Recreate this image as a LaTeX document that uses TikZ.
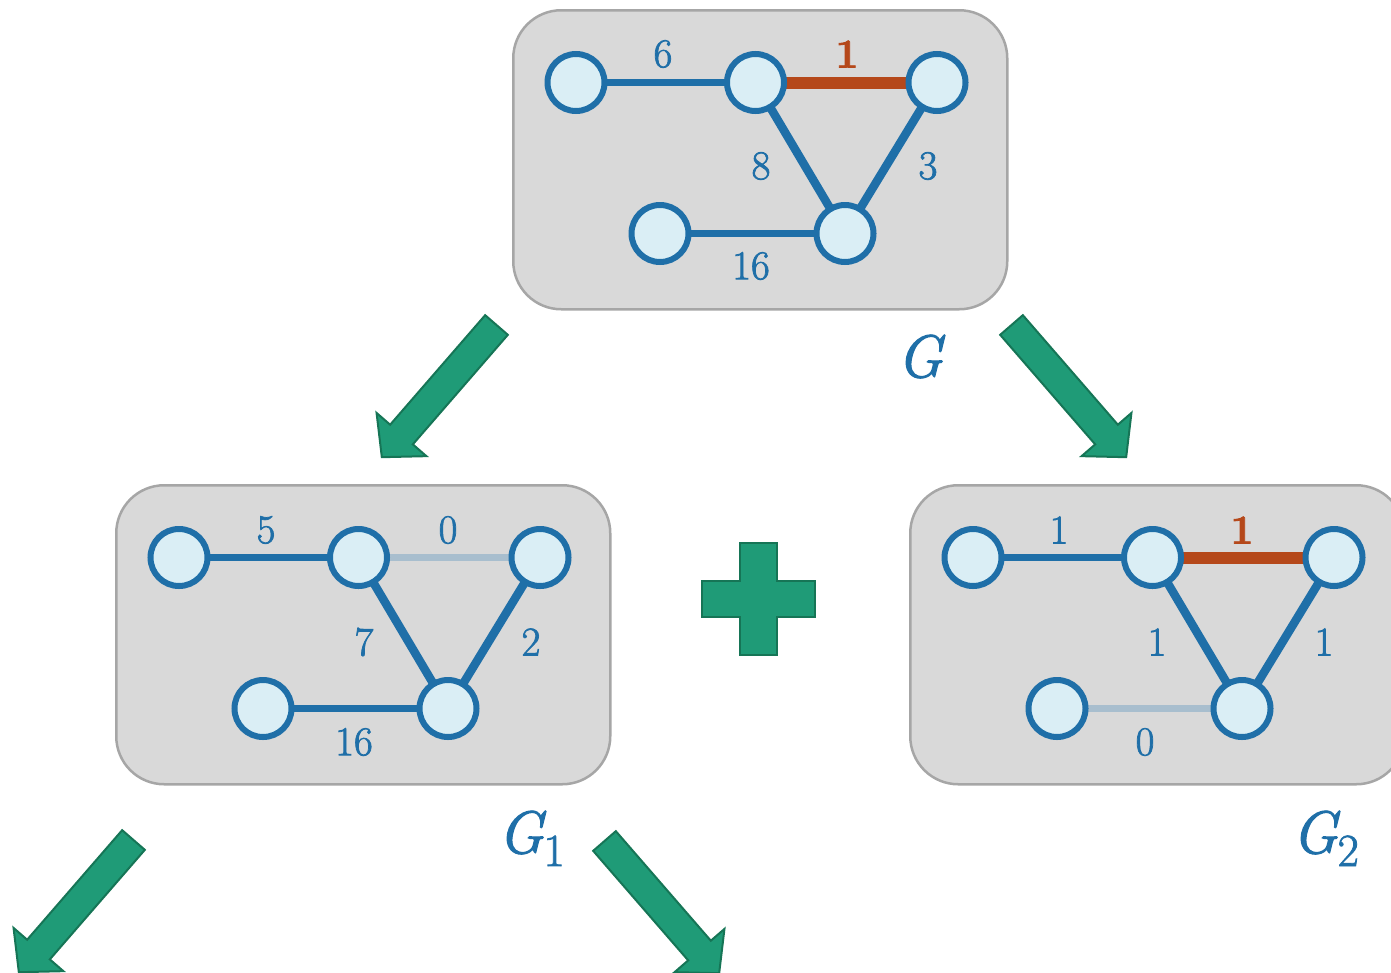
\documentclass[tikz,border=0pt]{standalone}
\usepackage{fontspec}
\setmainfont{Latin Modern Roman}[FakeBold=1.8]
\definecolor{edgeblue}{RGB}{31,111,168}
\definecolor{nodefill}{RGB}{218,238,245}
\definecolor{cutorange}{RGB}{181,72,26}
\definecolor{zeroedge}{RGB}{168,190,206}
\definecolor{boxfill}{RGB}{217,217,217}
\definecolor{boxline}{RGB}{166,166,166}
\definecolor{greenfill}{RGB}{31,155,119}
\definecolor{greenline}{RGB}{22,117,86}
\pgfdeclarelayer{panels}
\pgfdeclarelayer{edges}
\pgfsetlayers{panels,edges,main}
\tikzset{
  vtx/.style={circle, draw=edgeblue, fill=nodefill, line width=6pt, minimum size=57pt, inner sep=0pt},
  gbox/.style={draw=boxline, fill=boxfill, line width=2.5pt, rounded corners=48pt,
    minimum width=494pt, minimum height=299pt, inner sep=0pt, anchor=north west},
  wedge/.style={draw=edgeblue, line width=7pt},
  dedge/.style={draw=edgeblue, line width=8.5pt},
  cedge/.style={draw=cutorange, line width=12pt},
  zedge/.style={draw=zeroedge, line width=6.5pt},
  wlabel/.style={text=edgeblue, inner sep=0pt, font=\fontsize{41}{48}\selectfont},
  clabel/.style={text=cutorange, inner sep=0pt, font=\fontsize{41}{48}\selectfont\bfseries},
  glabel/.style={text=edgeblue, inner sep=0pt, anchor=base west, font=\fontsize{60}{66}\selectfont\itshape},
  greenshape/.style={fill=greenfill, draw=greenline, line width=2pt, line join=miter},
  blockarrow/.pic={
    \path[greenshape] (0,-15) -- (145,-15) -- (145,-33) -- (175,0) -- (145,33) -- (145,15) -- (0,15) -- cycle;
  }
}
% lowered index after a graph name
\newcommand{\gindex}[1]{\raisebox{-13pt}{\fontsize{46}{50}\selectfont\upshape #1}}
% a weighted graph on five vertices inside a rounded panel:
% #1 name prefix, #2 panel corner, #3..#7 edge styles (a-b, b-c, b-e, c-e, d-e)
\newcommand{\panelgraph}[7]{%
  \begin{pgfonlayer}{panels}
    \node[gbox] (#1box) at (#2) {};
  \end{pgfonlayer}
  \begin{scope}[shift={(#2)}]
    \node[vtx] (#1a) at (64,73.5) {};
    \node[vtx] (#1b) at (243.5,73.5) {};
    \node[vtx] (#1c) at (425,73.5) {};
    \node[vtx] (#1d) at (148,224.5) {};
    \node[vtx] (#1e) at (333,224.5) {};
  \end{scope}
  \begin{pgfonlayer}{edges}
    \draw[#3] (#1a.center) -- (#1b.center);
    \draw[#4] (#1b.center) -- (#1c.center);
    \draw[#5] (#1b.center) -- (#1e.center);
    \draw[#6] (#1c.center) -- (#1e.center);
    \draw[#7] (#1d.center) -- (#1e.center);
  \end{pgfonlayer}}
\begin{document}
\begin{tikzpicture}[x=1pt, y=-1pt]
\useasboundingbox (0,0) rectangle (1391,972);
\clip (0,0) rectangle (1391,972);

% top graph G
\panelgraph{g}{512,9}{wedge}{cedge}{dedge}{dedge}{wedge}
\begin{scope}[shift={(512,9)}]
  \node[wlabel] (gw1) at (151,45) {6};
  \node[clabel] (gw2) at (335,45) {1};
  \node[wlabel] (gw3) at (249,157) {8};
  \node[wlabel] (gw4) at (416,157) {3};
  \node[wlabel] (gw5) at (239,257) {16};
\end{scope}

% left graph G1
\panelgraph{l}{115,484}{wedge}{zedge}{dedge}{dedge}{wedge}
\begin{scope}[shift={(115,484)}]
  \node[wlabel] (lw1) at (151,46) {5};
  \node[wlabel] (lw2) at (333,46) {0};
  \node[wlabel] (lw3) at (249,158) {7};
  \node[wlabel] (lw4) at (416,158) {2};
  \node[wlabel] (lw5) at (239,258) {16};
\end{scope}

% right graph G2
\panelgraph{r}{909,484}{wedge}{cedge}{dedge}{dedge}{zedge}
\begin{scope}[shift={(909,484)}]
  \node[wlabel] (rw1) at (150,46) {1};
  \node[clabel] (rw2) at (333,46) {1};
  \node[wlabel] (rw3) at (248,158) {1};
  \node[wlabel] (rw4) at (415,158) {1};
  \node[wlabel] (rw5) at (236,258) {0};
\end{scope}

% graph names
\node[glabel] (nameG) at (897,377) {G};
\node[glabel] (nameG1) at (498,853) {G\gindex{1}};
\node[glabel] (nameG2) at (1292,853) {G\gindex{2}};

% splitting arrows
\pic[rotate=-130.94] at (496.5,325) {blockarrow};
\pic[rotate=-49.06] at (1011.5,325) {blockarrow};
\pic[rotate=-130.94] at (133.5,840) {blockarrow};
\pic[rotate=-49.06] at (604.5,841) {blockarrow};

% plus sign between the two parts
\path[greenshape] (740,543) -- (777,543) -- (777,581) -- (815,581) -- (815,617) -- (777,617)
  -- (777,655) -- (740,655) -- (740,617) -- (702,617) -- (702,581) -- (740,581) -- cycle;
\end{tikzpicture}
\end{document}
